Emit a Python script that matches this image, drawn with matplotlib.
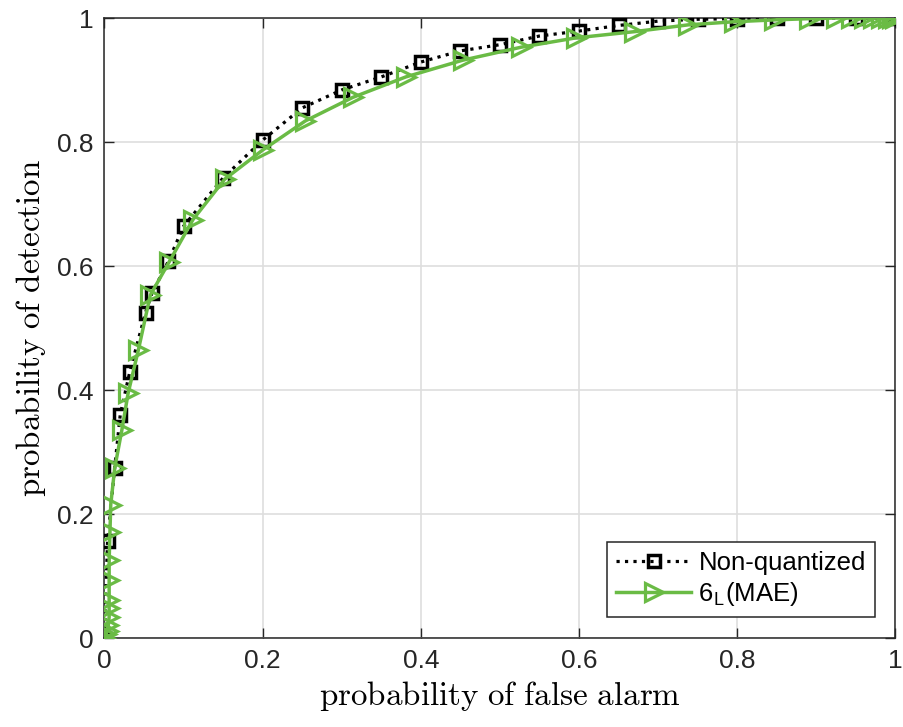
import numpy as np
import matplotlib
matplotlib.use("Agg")
import matplotlib.pyplot as plt

# ROC points
pfa_nq = [0, 0.004, 0.013, 0.02, 0.032, 0.052, 0.06, 0.081, 0.1, 0.15, 0.2, 0.25, 0.3, 0.35,
          0.4, 0.45, 0.5, 0.55, 0.6, 0.65, 0.7, 0.75, 0.8, 0.85, 0.9, 0.95, 1.0]
pd_nq = [0, 0.156, 0.275, 0.36, 0.429, 0.525, 0.556, 0.608, 0.664, 0.742, 0.803, 0.855, 0.884,
         0.905, 0.929, 0.947, 0.957, 0.971, 0.979, 0.988, 0.995, 0.998, 0.999, 1.0, 1.0, 1.0, 1.0]

pfa_q = [0, 0.002, 0.004, 0.005, 0.006, 0.006, 0.006, 0.006, 0.006, 0.007, 0.008, 0.013, 0.022,
         0.03, 0.043, 0.058, 0.082, 0.112, 0.152, 0.2, 0.254, 0.314, 0.381, 0.453, 0.527, 0.596,
         0.67, 0.738, 0.796, 0.847, 0.891, 0.925, 0.944, 0.96, 0.972, 0.982, 0.99, 0.996, 1.0]
pd_q = [0, 0.006, 0.012, 0.021, 0.034, 0.048, 0.061, 0.094, 0.126, 0.171, 0.215, 0.274, 0.335,
        0.395, 0.465, 0.553, 0.607, 0.675, 0.74, 0.787, 0.834, 0.872, 0.905, 0.932, 0.953, 0.968,
        0.978, 0.989, 0.994, 0.997, 0.999, 1.0, 1.0, 1.0, 1.0, 1.0, 1.0, 1.0, 1.0]

green = '#6abb45'
axcol = '#262626'

plt.rcParams['font.family'] = ['Liberation Sans', 'DejaVu Sans']
plt.rcParams['mathtext.fontset'] = 'cm'

fig = plt.figure(figsize=(9.04, 7.27), dpi=100)
ax = fig.add_axes([0.1155, 0.1224, 0.875, 0.8528])

ax.plot(pfa_nq, pd_nq, ':', color='k', lw=2.3, marker='s', ms=8.5, mew=2.5,
        mfc='none', mec='k', label='Non-quantized', zorder=3)
ax.plot(pfa_q, pd_q, '-', color=green, lw=2.5, marker='>', ms=13, mew=2.3,
        mfc='none', mec=green, label='6$_\\mathregular{L}$(MAE)', zorder=4)

ax.set_xlim(0, 1)
ax.set_ylim(0, 1)
ticks = [0, 0.2, 0.4, 0.6, 0.8, 1]
ticklabels = ['0', '0.2', '0.4', '0.6', '0.8', '1']
ax.set_xticks(ticks)
ax.set_xticklabels(ticklabels)
ax.set_yticks(ticks)
ax.set_yticklabels(ticklabels)
ax.tick_params(direction='in', length=7, width=1, top=True, right=True,
               labelsize=19, colors=axcol, pad=8)
for s in ax.spines.values():
    s.set_color(axcol)
    s.set_linewidth(1.1)
ax.grid(True, color='#dedede', lw=1.2)
ax.set_axisbelow(True)

ax.set_xlabel(r'$\mathrm{probability\ of\ false\ alarm}$', fontsize=23.8, labelpad=4)
ax.set_ylabel(r'$\mathrm{probability\ of\ detection}$', fontsize=23.8, labelpad=6)

leg = ax.legend(loc='lower right', fontsize=18.5, fancybox=False, framealpha=1,
                edgecolor=axcol, borderaxespad=0.8, handlelength=2.9,
                handletextpad=0.3, borderpad=0.35, labelspacing=0.2)
leg.get_frame().set_linewidth(1.1)

fig.savefig('out.png', dpi=100)
